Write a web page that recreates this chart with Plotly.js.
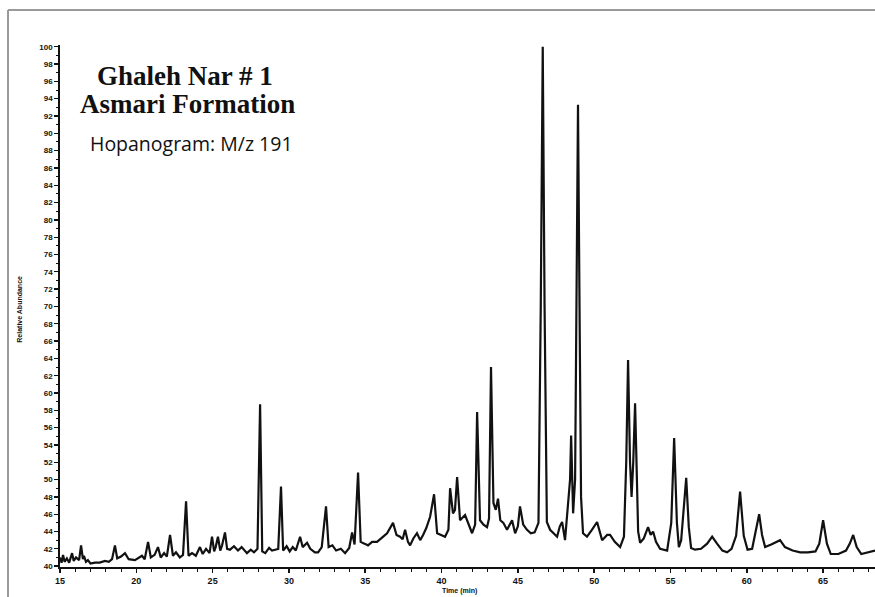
<!DOCTYPE html>
<html>
<head>
<meta charset="utf-8">
<script src="https://cdn.plot.ly/plotly-3.0.1.min.js"></script>
<style>html,body{margin:0;padding:0;background:#fff;}#chart{width:875px;height:597px;}</style>
</head>
<body>
<div id="chart"></div>
<script>
// Retention time (min)
var timeMin = [
15.00,15.10,15.20,15.30,15.45,15.60,15.79,15.90,16.05,16.25,16.38,16.50,16.57,16.70,16.83,17.00,17.29,17.60,17.95,18.20,
18.41,18.60,18.75,19.00,19.26,19.50,19.91,20.20,20.37,20.55,20.77,20.95,21.20,21.42,21.60,21.82,22.00,22.21,22.40,22.60,
22.85,23.06,23.26,23.42,23.65,23.90,24.17,24.35,24.57,24.80,24.96,25.10,25.20,25.35,25.50,25.62,25.81,25.95,26.14,26.40,
26.66,26.90,27.25,27.50,27.71,27.94,28.11,28.25,28.45,28.70,28.89,29.10,29.30,29.48,29.62,29.85,30.05,30.25,30.45,30.73,
30.90,31.19,31.40,31.70,31.91,32.15,32.43,32.60,32.85,33.09,33.40,33.68,33.95,34.14,34.30,34.53,34.70,34.95,35.18,35.45,
35.77,36.10,36.43,36.82,37.05,37.28,37.45,37.61,37.80,37.94,38.15,38.39,38.60,38.79,39.00,39.25,39.51,39.71,40.00,40.23,
40.45,40.56,40.75,40.88,41.02,41.21,41.54,41.80,42.00,42.20,42.33,42.52,42.75,42.98,43.11,43.24,43.40,43.55,43.70,43.85,
44.05,44.29,44.50,44.62,44.82,45.00,45.14,45.35,45.60,45.85,46.10,46.35,46.50,46.63,46.75,46.90,47.11,47.35,47.57,47.75,
47.90,48.09,48.29,48.42,48.49,48.62,48.75,48.86,48.94,49.04,49.14,49.27,49.53,49.85,50.19,50.52,50.85,51.04,51.35,51.70,
51.95,52.10,52.22,52.35,52.45,52.56,52.68,52.80,52.88,53.01,53.25,53.53,53.70,53.86,54.05,54.32,54.78,55.05,55.24,55.42,
55.55,55.70,55.85,56.03,56.20,56.35,56.60,57.00,57.40,57.73,58.05,58.40,58.71,59.00,59.30,59.56,59.80,60.05,60.35,60.60,
60.81,61.00,61.20,61.60,62.18,62.50,63.00,63.50,64.00,64.50,64.75,65.00,65.25,65.50,66.00,66.50,66.75,66.97,67.20,67.50,
67.90,68.40
];
// Relative abundance (%)
var abundance = [
41.0,40.4,41.3,40.5,40.9,40.4,41.5,40.6,41.0,40.7,42.4,40.8,41.2,40.5,40.7,40.3,40.4,40.4,40.6,40.5,
40.8,42.4,40.9,41.1,41.5,40.8,40.7,41.0,41.2,40.8,42.8,41.0,41.3,42.2,41.0,41.5,41.1,43.6,41.2,41.6,
41.0,41.3,47.5,41.2,41.5,41.2,42.2,41.4,42.0,41.5,43.4,41.7,42.2,43.4,41.8,42.4,43.9,42.0,41.9,42.3,
41.8,42.2,41.5,41.9,41.6,42.0,58.7,41.7,41.5,42.1,41.8,41.9,42.0,49.2,41.8,42.3,41.7,42.2,41.8,43.4,
42.2,42.7,42.0,41.6,41.6,42.2,46.9,42.2,42.4,41.8,42.0,41.5,42.1,43.9,42.5,50.8,42.8,42.6,42.4,42.8,
42.8,43.3,43.8,45.0,43.6,43.4,43.1,44.2,42.8,42.4,43.2,43.8,43.0,43.6,44.4,45.7,48.3,43.8,43.6,43.4,
44.2,49.0,46.1,46.5,50.3,45.3,45.9,44.6,43.8,44.8,57.8,45.3,44.8,44.5,45.5,63.0,47.3,46.5,47.8,45.3,
45.0,44.2,44.8,45.3,43.8,44.6,46.9,44.8,44.2,43.8,43.9,45.0,70.0,100.0,70.0,45.1,44.2,43.8,43.4,44.6,
45.1,43.0,46.8,50.0,55.1,46.1,50.0,75.0,93.3,70.0,48.0,43.8,43.4,44.2,45.1,43.0,43.6,43.6,42.8,42.2,
43.4,52.0,63.8,52.0,48.0,52.0,58.8,50.0,44.0,42.7,43.2,44.5,43.6,44.0,42.8,42.0,41.8,45.0,54.8,45.0,
42.2,43.0,46.0,50.2,44.5,42.1,41.9,42.0,42.6,43.4,42.6,41.8,41.6,42.0,43.5,48.6,43.5,41.9,42.0,44.0,
46.0,43.6,42.2,42.5,43.0,42.2,41.8,41.6,41.6,41.7,42.6,45.3,42.6,41.4,41.4,41.8,42.6,43.6,42.2,41.4,
41.6,41.8
];
var xTickValues = [15,20,25,30,35,40,45,50,55,60,65];
var xTickLabels = ["15","20","25","30","35","40","45","50","55","60","65"];
var titleLine1 = "Ghaleh Nar # 1";
var titleLine2 = "Asmari Formation";
var subtitle = "Hopanogram: M/z 191";

var trace = {
  x: timeMin, y: abundance, type: 'scatter', mode: 'lines',
  line: {color: '#111', width: 2.2, shape: 'linear'},
  hoverinfo: 'x+y'
};

var layout = {
  width: 875, height: 597,
  margin: {l: 60, r: 0, t: 45, b: 30},
  paper_bgcolor: '#fff', plot_bgcolor: '#fff',
  showlegend: false,
  xaxis: {
    range: [15, 68.4], tickmode: 'array', tickvals: xTickValues, ticktext: xTickLabels,
    ticks: 'outside', ticklen: 4, tickwidth: 1.5, tickcolor: '#111',
    minor: {dtick: 1, tick0: 15, ticks: 'outside', ticklen: 3, tickcolor: '#111', tickwidth: 1},
    showline: true, linecolor: '#111', linewidth: 1.8, showgrid: false, zeroline: false,
    tickfont: {family: 'Liberation Sans', size: 9, color: '#111', weight: 'bold'}
  },
  yaxis: {
    range: [39.9, 100.2], tick0: 40, dtick: 2,
    ticks: 'outside', ticklen: 4, tickwidth: 1.3, tickcolor: '#111',
    minor: {dtick: 1, ticks: 'outside', ticklen: 2.5, tickcolor: '#111', tickwidth: 1},
    showline: true, linecolor: '#111', linewidth: 1.8, showgrid: false, zeroline: false,
    tickfont: {family: 'Liberation Sans', size: 8, color: '#111', weight: 'bold'}
  },
  annotations: [
    {text: titleLine1, xref: 'paper', yref: 'paper', x: 0.153, y: 0.941, xanchor: 'center', yanchor: 'middle', showarrow: false,
     font: {family: 'Liberation Serif', size: 27, color: '#111', weight: 'bold'}},
    {text: titleLine2, xref: 'paper', yref: 'paper', x: 0.156, y: 0.887, xanchor: 'center', yanchor: 'middle', showarrow: false,
     font: {family: 'Liberation Serif', size: 27, color: '#111', weight: 'bold'}},
    {text: subtitle, xref: 'paper', yref: 'paper', x: 0.034, y: 0.812, xanchor: 'left', yanchor: 'middle', showarrow: false,
     font: {family: 'Open Sans', size: 19.5, color: '#111'}},
    {text: 'Relative Abundance', xref: 'paper', yref: 'paper', x: -0.049, y: 0.493, xanchor: 'center', yanchor: 'middle', textangle: -90, showarrow: false,
     font: {family: 'Liberation Sans', size: 7, color: '#111', weight: 'bold'}},
    {text: 'Time (min)', xref: 'paper', yref: 'paper', x: 0.49, y: -0.046, xanchor: 'center', yanchor: 'middle', showarrow: false,
     font: {family: 'Liberation Sans', size: 7, color: '#111', weight: 'bold'}}
  ],
  shapes: [
    {type: 'line', xref: 'paper', yref: 'paper', x0: -0.0638, x1: 1.0, y0: 1.067, y1: 1.067, line: {color: '#9a9a9a', width: 2}},
    {type: 'line', xref: 'paper', yref: 'paper', x0: -0.0638, x1: -0.0638, y0: 1.067, y1: -0.06, line: {color: '#9a9a9a', width: 2}}
  ]
};

Plotly.newPlot('chart', [trace], layout, {displayModeBar: false, staticPlot: true});
</script>
</body>
</html>
